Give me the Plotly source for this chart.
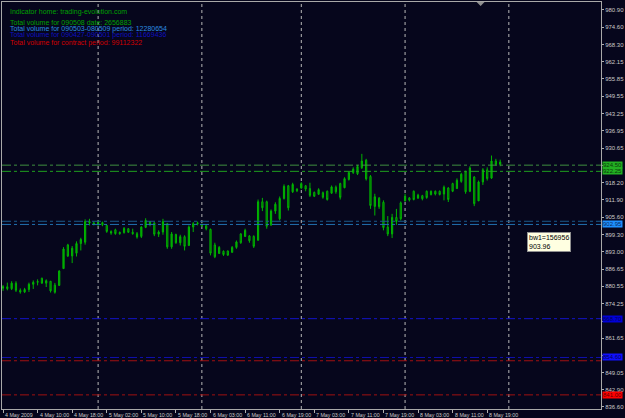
import plotly.graph_objects as go

# ---------------- data ----------------
opens = [879.8, 880.3, 879.6, 881.6, 879.0, 878.4, 879.3, 881.2, 881.9, 883.4,
         881.6, 882.3, 880.9, 880.8, 886.9, 895.5, 891.5, 892.5, 896.0, 896.5,
         904.0, 903.5, 903.0, 903.6, 902.6, 900.4, 901.0, 899.6, 900.0, 901.4,
         900.1, 899.6, 898.6, 901.9, 904.0, 903.5, 899.4, 900.2, 903.2, 894.8,
         899.3, 896.3, 898.5, 895.3, 902.0, 903.2, 903.0, 902.5, 901.2, 895.5,
         892.4, 893.2, 893.3, 892.8, 894.6, 899.5, 898.6, 898.8, 898.6, 897.2,
         911.2, 911.2, 902.8, 907.8, 905.0, 912.4, 917.0, 914.8, 915.8, 916.2,
         917.0, 916.0, 914.6, 913.9, 914.5, 915.0, 914.3, 916.5, 917.8, 916.3,
         919.3, 921.8, 921.4, 923.6, 926.3, 920.4, 909.5, 912.5, 911.0, 902.0,
         899.5, 905.5, 910.8, 911.5, 912.6, 915.0, 912.5, 913.4, 915.0, 913.8,
         915.0, 915.0, 914.0, 916.2, 917.8, 916.0, 918.6, 922.0, 915.0, 920.2,
         911.5, 918.4, 922.8, 919.8, 926.0, 924.8]
highs = [880.9, 881.8, 882.3, 882.3, 879.7, 879.9, 881.8, 882.6, 883.0, 883.6,
         883.0, 882.3, 881.7, 886.3, 894.7, 895.9, 895.1, 896.8, 898.1, 904.8,
         905.0, 904.0, 904.4, 904.0, 902.8, 900.8, 901.4, 900.4, 902.0, 901.6,
         901.4, 900.2, 902.3, 905.2, 904.0, 903.8, 900.8, 905.0, 903.5, 900.2,
         899.6, 899.2, 899.0, 902.6, 903.8, 904.0, 903.2, 902.6, 901.4, 896.3,
         895.1, 893.5, 893.5, 895.1, 897.1, 899.8, 901.4, 899.0, 899.0, 912.0,
         912.6, 911.6, 908.4, 911.0, 913.1, 917.5, 917.3, 918.1, 916.1, 918.3,
         917.3, 918.1, 914.9, 916.1, 914.9, 915.3, 917.1, 917.1, 918.1, 920.1,
         922.2, 923.7, 924.6, 928.6, 926.8, 920.9, 914.1, 912.9, 911.7, 906.0,
         906.8, 908.6, 911.3, 914.1, 912.9, 915.3, 914.1, 913.7, 915.3, 915.3,
         915.3, 915.3, 917.1, 916.5, 918.1, 919.7, 921.7, 922.5, 924.1, 920.5,
         918.9, 923.4, 923.7, 928.0, 926.8, 926.5]
lows = [878.8, 879.0, 879.1, 878.4, 877.8, 878.0, 878.4, 879.5, 880.8, 881.4,
        880.2, 878.2, 877.8, 880.6, 886.9, 891.1, 888.9, 891.3, 893.5, 895.6,
        902.6, 902.6, 902.3, 902.3, 899.9, 899.2, 899.2, 899.2, 899.6, 899.9,
        899.2, 897.8, 898.0, 901.6, 902.3, 898.7, 898.4, 899.2, 894.1, 894.1,
        895.9, 895.3, 893.5, 895.3, 900.2, 902.6, 902.0, 900.8, 891.7, 890.7,
        892.3, 891.5, 891.5, 892.7, 894.1, 895.9, 898.4, 896.3, 894.4, 897.1,
        907.8, 901.4, 902.4, 906.8, 904.4, 912.0, 908.0, 914.4, 914.7, 915.9,
        915.0, 912.9, 912.9, 913.7, 912.3, 911.6, 914.1, 914.1, 912.0, 916.1,
        918.9, 921.3, 920.9, 923.1, 918.9, 908.6, 906.2, 908.6, 900.8, 898.7,
        898.0, 902.8, 904.4, 911.3, 911.3, 911.7, 912.3, 911.7, 912.3, 913.5,
        913.5, 913.5, 911.7, 911.1, 914.7, 915.9, 918.1, 914.1, 914.7, 909.6,
        911.7, 917.3, 918.9, 919.5, 924.3, 924.1]
closes = [880.3, 879.6, 881.6, 879.0, 878.4, 879.3, 881.2, 881.9, 882.2, 881.6,
          882.5, 878.8, 878.3, 886.0, 894.0, 891.5, 894.3, 896.0, 897.5, 904.0,
          903.5, 903.0, 903.6, 902.8, 900.4, 899.8, 899.6, 900.0, 901.5, 900.1,
          899.6, 898.4, 902.0, 904.4, 903.0, 899.4, 900.2, 904.0, 894.8, 899.5,
          896.3, 898.5, 895.0, 902.0, 903.2, 903.5, 902.5, 901.4, 892.5, 891.2,
          894.6, 892.0, 891.8, 894.6, 896.6, 896.3, 900.8, 897.0, 895.0, 911.2,
          909.0, 902.3, 907.8, 910.3, 912.4, 916.8, 909.0, 917.5, 915.2, 917.8,
          915.8, 913.5, 913.2, 915.6, 912.8, 912.0, 916.6, 914.8, 912.8, 919.6,
          921.8, 923.0, 924.0, 926.0, 919.5, 909.8, 913.0, 909.4, 901.8, 899.5,
          905.5, 904.0, 905.0, 913.2, 911.8, 912.0, 913.6, 912.3, 912.7, 915.0,
          914.0, 913.8, 916.5, 912.0, 915.0, 919.0, 921.2, 914.8, 923.5, 910.5,
          918.4, 922.8, 919.6, 926.0, 924.8, 925.6]
bar_index = list(range(len(opens)))

time_tick_index = [0, 8, 16, 24, 32, 40, 48, 56, 64, 72, 80, 88, 96, 104, 112]
time_tick_labels = ["4 May 2009", "4 May 10:00", "4 May 18:00", "5 May 02:00",
                    "5 May 10:00", "5 May 18:00", "6 May 03:00", "6 May 11:00",
                    "6 May 19:00", "7 May 03:00", "7 May 11:00", "7 May 19:00",
                    "8 May 03:00", "8 May 11:00", "8 May 19:00"]
day_separators = [22, 46, 69, 93, 117]

price_ticks = [980.90, 974.60, 968.30, 962.15, 955.85, 949.55, 943.25, 936.95,
               930.65, 924.50, 918.20, 911.90, 905.60, 899.30, 893.00, 886.65,
               880.55, 874.25, 867.80, 861.65, 855.35, 849.05, 842.90, 836.60]
# labels hidden behind the coloured price boxes in the reference
hidden_tick_labels = [924.50, 867.80, 855.35]
price_tick_labels = ["" if v in hidden_tick_labels else "%.2f" % v for v in price_ticks]

level_values = [924.50, 922.25, 904.10, 902.95, 868.70, 854.60, 853.40, 841.00]
level_colors = ["#3f8f3f", "#1fa01f", "#1a5a8a", "#2070b0",
                "#1414c8", "#1010b0", "#a01010", "#a01010"]

box_values = [924.50, 922.25, 902.95, 868.70, 854.60, 841.00]
box_colors = ["#22b022", "#22b022", "#1e90ff", "#0000d8", "#1010ff", "#ff0000"]
box_text_colors = ["#0a3a0a", "#0a3a0a", "#0a2a60", "#000060", "#000060", "#600000"]

info_lines = ["Indicator home: trading-evolution.com",
              "Total volume for 090508 date: 2656883",
              "Total volume for 090503-080509 period: 12280654",
              "Total volume for 090427-090501 period: 11669436",
              "Total volume for contract period: 99112322"]
info_colors = ["#00a000", "#00a000", "#2c8ce0", "#1010c0", "#d00000"]
info_y_px = [11, 22, 28, 34, 42]

tooltip_text = "bw1=156956<br>903.96"

# ---------------- figure ----------------
W, H = 625, 418
ML, MR, MT, MB = 1, 22, 1, 9
PW, PH = W - ML - MR, H - MT - MB
BG = "#06061c"
FONT = "Liberation Sans"

fig = go.Figure()
fig.add_trace(go.Candlestick(
    x=bar_index, open=opens, high=highs, low=lows, close=closes,
    increasing=dict(line=dict(color="#00b400", width=1), fillcolor="#00a000"),
    decreasing=dict(line=dict(color="#00b400", width=1), fillcolor="#004c00"),
    whiskerwidth=0, hoverinfo="skip", showlegend=False))

shapes = []
for s in day_separators:
    shapes.append(dict(type="line", xref="x", yref="paper", x0=s, x1=s, y0=0, y1=1,
                       line=dict(color="#b8b8b8", width=1, dash="dot"), layer="below"))
for v, c in zip(level_values, level_colors):
    shapes.append(dict(type="line", xref="paper", yref="y", x0=0, x1=1, y0=v, y1=v,
                       line=dict(color=c, width=1, dash="dashdot")))
# chart shift marker
tx = (482 - ML) / PW
shapes.append(dict(type="path", xref="paper", yref="paper",
                   path="M %f 1 L %f 1 L %f %f Z" % (tx - 4 / PW, tx + 4 / PW, tx, 1 - 4 / PH),
                   fillcolor="#909090", line=dict(width=0)))

annotations = []
for txt, c, ypx in zip(info_lines, info_colors, info_y_px):
    annotations.append(dict(xref="paper", yref="paper", x=(7 - ML) / PW, y=1 - (ypx - MT) / PH,
                            xanchor="left", yanchor="middle", text=txt, showarrow=False,
                            font=dict(family=FONT, size=7, color=c)))
for i, lab in zip(time_tick_index, time_tick_labels):
    annotations.append(dict(xref="x", yref="paper", x=i, y=0, xanchor="left", yanchor="top",
                            xshift=0, yshift=-1, text=lab, showarrow=False,
                            font=dict(family=FONT, size=5.3, color="#c8c8c8")))
for v, bg, tc in zip(box_values, box_colors, box_text_colors):
    annotations.append(dict(xref="paper", yref="y", x=1, y=v, xanchor="left", yanchor="middle",
                            xshift=1, text="%.2f" % v, showarrow=False, bgcolor=bg,
                            borderpad=0, font=dict(family=FONT, size=6, color=tc)))
annotations.append(dict(xref="paper", yref="paper", x=(529 - ML) / PW, y=1 - (232 - MT) / PH,
                        xanchor="left", yanchor="top", text=tooltip_text, showarrow=False,
                        align="left", bgcolor="#ffffe1", bordercolor="#909090", borderwidth=1,
                        borderpad=1, font=dict(family=FONT, size=7, color="#000000")))

x0 = (ML - 2) / 4.345
x1 = (W - MR - 2) / 4.345
y_top = 980.9 + (9 - MT) / 2.758
y_bot = 980.9 - (H - MB - 9) / 2.758

fig.update_layout(
    width=W, height=H, margin=dict(l=ML, r=MR, t=MT, b=MB),
    paper_bgcolor=BG, plot_bgcolor=BG, showlegend=False,
    shapes=shapes, annotations=annotations, hovermode=False, boxgap=0.6,
    xaxis=dict(range=[x0, x1], rangeslider=dict(visible=False), showgrid=False,
               zeroline=False, tickvals=time_tick_index, showticklabels=False,
               ticks="outside", ticklen=3, tickcolor="#b0b0b0",
               showline=True, mirror=True, linecolor="#a8a8a8", linewidth=1),
    yaxis=dict(range=[y_bot, y_top], side="right", showgrid=False, zeroline=False,
               tickvals=price_ticks, ticktext=price_tick_labels,
               ticks="outside", ticklen=2, tickcolor="#b0b0b0",
               tickfont=dict(family=FONT, size=6, color="#c8c8c8"),
               showline=True, mirror=True, linecolor="#a8a8a8", linewidth=1),
)

fig.write_html("out.html", config={"displayModeBar": False})
